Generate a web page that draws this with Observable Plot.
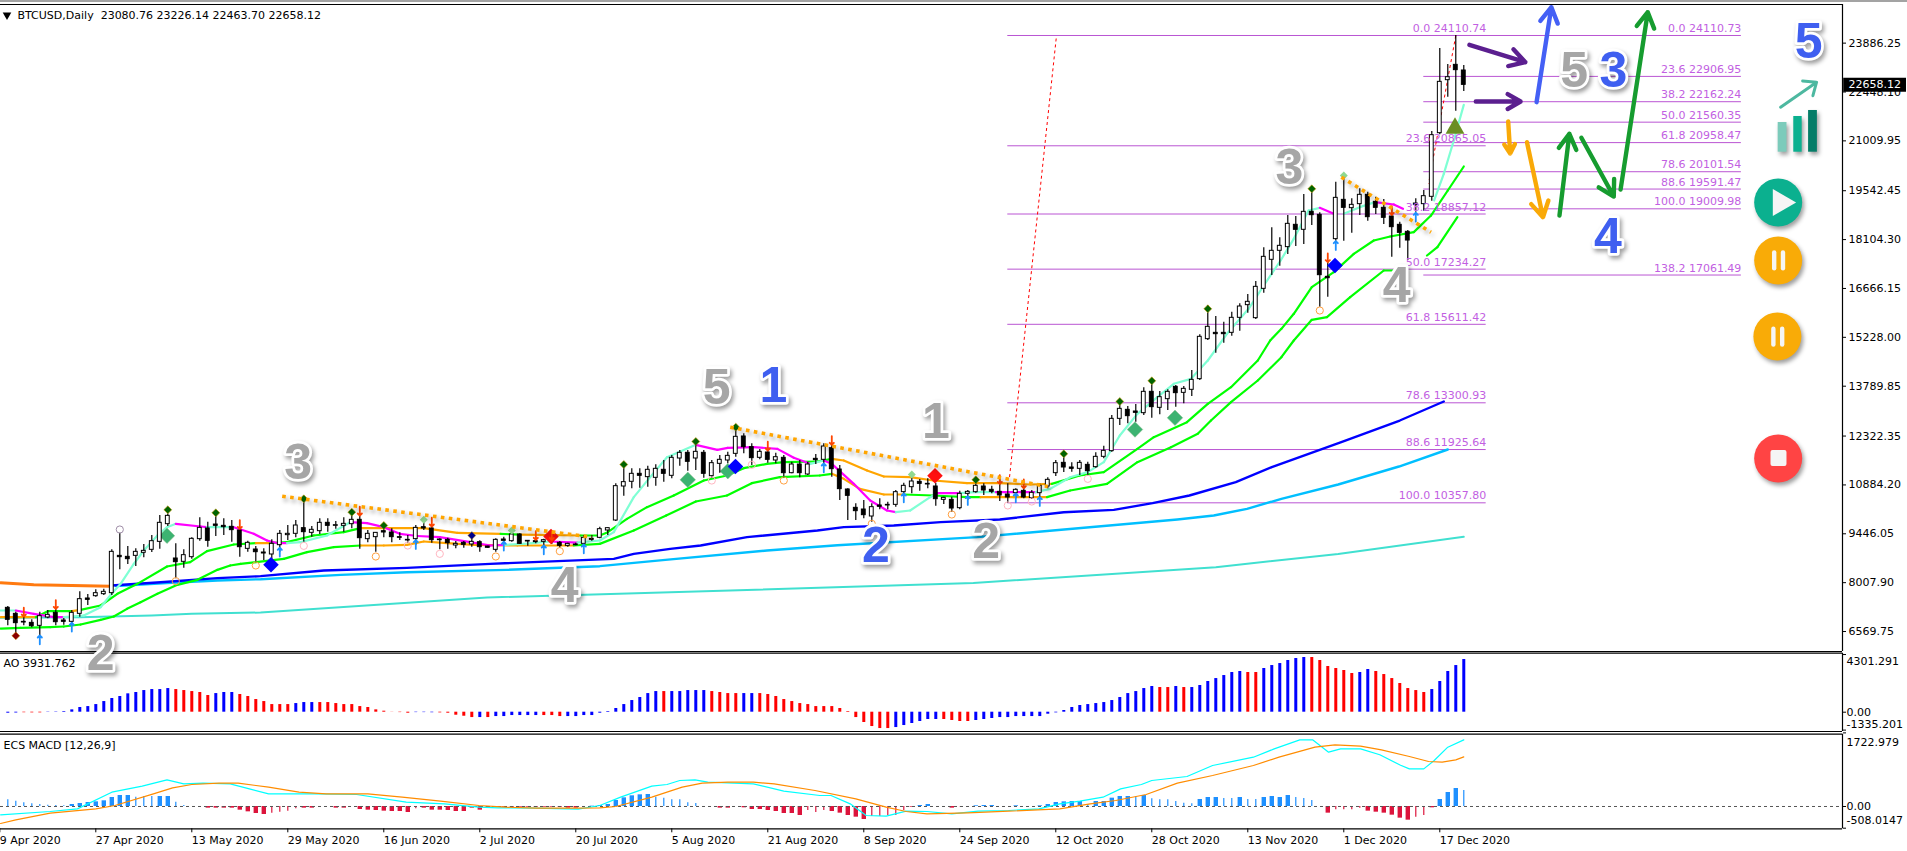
<!DOCTYPE html>
<html>
<head>
<meta charset="utf-8">
<script src="https://cdn.jsdelivr.net/npm/d3@7"></script>
<script src="https://cdn.jsdelivr.net/npm/@observablehq/plot@0.6"></script>
<style>
html,body{margin:0;padding:0;background:#fff;overflow:hidden;width:1907px;height:851px}
.pane{position:absolute;left:0}
#strip{position:absolute;left:0;top:0;width:1907px;height:2px;background:#a3a3a3}
</style>
</head>
<body>
<div id="strip"></div>
<div id="ao" class="pane" style="top:650px"></div>
<div id="macd" class="pane" style="top:730px"></div>
<div id="main" class="pane" style="top:0"></div>
<script>
// ---------- daily candles, BTCUSD ----------
const opens = [7267,7090,6855,6825,6737,6982,7120,6894,6855,7090,
7542,7610,7669,7699,8797,8768,8797,8886,8974,9209,
9729,8719,8621,8758,9288,9602,9719,9680,9651,9543,
9003,8984,8895,8837,9111,9406,9445,9612,9474,9523,
9769,9680,9680,9729,9857,9288,9347,9523,9484,9347,
9268,9288,9641,9602,9258,9268,9101,9180,9131,9200,
9072,8974,9278,9229,9425,9239,9229,9209,9249,9180,
9092,9131,9150,9298,9327,9543,9837,10838,10976,11211,
11113,11093,11329,11152,11662,11829,11662,11829,11142,11505,
11603,11799,12310,11996,11682,11839,11603,11682,11230,11485,
11191,11652,11623,11966,11338,10750,10210,10161,9955,10279,
10279,10298,10671,10818,10975,10916,10838,10445,10445,10200,
10622,10671,10838,10740,10681,10602,10642,10710,10494,10642,
10838,11230,11534,11397,11358,11475,11407,11711,11878,12829,
13094,13045,12996,13624,13153,13408,13771,13594,13683,13997,
15174,15360,15360,15360,15802,16175,15792,16655,17509,17774,
17882,18539,18392,18921,18833,17008,18117,19274,19029,19147,
19422,19216,19039,18784,18539,18333,19166,19147,19363,21236,
22796,23247,23080.76];
const highs = [7306,7139,7012,6914,7139,7188,7237,6953,7188,7738,
7659,7797,7816,8974,9464,9072,9003,9131,9396,9984,
10033,9150,8974,9327,9916,9788,10033,9886,9837,9592,
9229,9072,9003,9268,9543,9690,9837,10553,9661,9886,
9886,9808,9916,10131,9955,9543,9474,9739,9592,9474,
9396,9690,9788,9641,9298,9317,9219,9219,9445,9239,
9082,9298,9347,9494,9445,9249,9347,9288,9396,9219,
9170,9170,9396,9396,9641,9622,10916,11505,11358,11358,
11436,11476,11603,11750,11897,11897,12143,11897,11603,11750,
11848,12535,12388,12094,11927,11927,11819,11750,11554,11603,
11554,11780,12094,12045,11456,10769,10328,10426,10328,10475,
10377,10720,10936,11093,11044,11064,10936,10524,10524,10701,
10720,11064,10916,10848,11112,10916,10769,10769,10720,10916,
11093,11603,11799,11534,11603,11554,11829,12025,12927,13388,
13192,13251,13742,14006,13634,13683,13810,13781,14252,15301,
16165,15841,15674,15969,16214,16489,16871,17862,18451,18157,
18814,18784,19431,19647,18892,17489,19794,19941,19304,19598,
19500,19353,19284,19059,18617,18372,19304,19549,21285,23728,
23257,24111,23226.14];
const lows = [6737,6521,6737,6678,6423,6943,6737,6757,6796,6992,
7336,7581,7630,7630,8385,8542,8483,8739,8895,8994,
9661,8120,8434,8699,9229,9052,9366,9396,9200,8758,
8905,8611,8660,8582,8905,9249,9327,9200,9347,9425,
9494,9582,9494,9592,8994,9180,8905,9327,9180,9249,
9170,9101,9543,9170,8974,8994,9003,9023,9052,8905,
9023,8905,9150,9200,9131,9082,9150,9052,9131,9023,
9052,9092,9101,9229,9298,9396,9808,10553,10769,10789,
10818,10848,10966,11064,11436,11289,11309,11083,11083,11230,
11505,11701,11799,11456,11623,11525,11505,11093,11211,11093,
11162,11485,11456,11113,10426,9837,9837,9886,9788,10151,
10151,10230,10603,10622,10701,10769,10259,10308,10083,10151,
10426,10642,10573,10622,10396,10347,10475,10475,10455,10445,
10769,11132,11250,11259,11162,11162,11377,11652,11848,12633,
12682,12731,12927,12849,12947,13074,13173,13271,13487,13957,
15135,14762,15056,15262,15409,15939,15753,16528,17048,17322,
17666,17901,17960,18519,16116,16410,18058,18058,18293,18814,
18647,18843,18549,17587,17852,17489,18911,18941,19235,21187,
22296,21884,22463.70];
const closes = [6914,6816,6835,6727,7022,7061,6845,6855,7120,7522,
7502,7699,7738,8915,8758,8699,8915,8944,9229,9769,
9974,8611,8817,9298,9621,9239,9680,9641,9553,9052,
9180,8905,8866,9150,9445,9445,9690,9494,9563,9769,
9680,9700,9739,9857,9317,9445,9474,9484,9347,9327,
9249,9621,9602,9258,9278,9170,9150,9121,9209,9052,
9033,9268,9239,9425,9150,9219,9200,9258,9219,9092,
9150,9111,9327,9268,9582,9612,10848,10966,11211,11152,
11329,11358,11211,11682,11829,11564,11858,11211,11525,11623,
11740,12300,11996,11672,11858,11623,11701,11230,11485,11230,
11485,11613,12015,11348,10760,10563,10112,9994,10230,10240,
10298,10671,10858,10985,10916,10897,10465,10504,10190,10622,
10681,10858,10720,10681,10573,10514,10740,10514,10651,10857,
11034,11524,11397,11358,11534,11289,11711,11887,12829,13123,
12908,13006,13624,13173,13467,13624,13585,13712,13977,15243,
15537,15321,15321,15802,16135,16273,16714,17597,17774,17921,
18568,18392,18921,18823,17057,16969,19333,19039,19127,19422,
18764,19039,18745,18470,18303,18077,19127,19382,21178,22747,
22884,23091,22658.12];

// ---------- moving averages: [bar, price] knots and the colour of the stretch that starts at each knot ----------
const fastBar = [-0.9,1,3.25,5.75,7,9.5,11.6,12.8,14.1,15.75,17,18.7,19.9,21,24.1,24.9,28.25,30.75,32.4,33.7,34.9,36.6,39.9,42.8,44.9,47,49,51.2,54,57.8,60.3,62,64.5,67.8,71.2,74,75.75,78.25,80.3,82.4,86,88.7,90,93.25,96.2,98.25,100.3,102,103,105.75,107.8,109.9,111,112.8,115.3,116.2,119,121,123.5,128.5,130.3,132.8,135,137,139,141.2,143.7,145.75,147.9,150,152.4,155.1,157,159.1,160.75,162.6,164,165.75,167,169,170.9,173.25,174.4,178.3,179.5,180.75,182];
const fastVal = [7188,7188,7090,6992,6992,7041,7286,7630,7973,8562,8954,9395,9641,9739,9660,9641,9641,9445,9249,9170,9170,9200,9396,9788,9759,9641,9445,9381,9347,9200,9101,9121,9150,9219,9185,9249,9494,10524,11113,11701,12064,11917,11976,11995,11946,11682,11505,11603,11505,10916,10426,10132,10083,10132,10524,10642,10642,10671,10671,10671,10769,11112,11260,11554,12339,12976,13467,13860,14006,14546,15331,16067,16753,17489,18127,18961,19039,18862,18862,19059,19206,19137,19010,19255,20040,21021,22070];
const fastCol = "a"+"mmm"+"aaaaaaaaa"+"mm"+"a"+"mmmm"+"aaa"+"mmmmmmmm"+"aa"+"m"+"aaaaaa"+"mmmmmm"+"a"+"mmmmm"+"aaa"+"m"+"aa"+"m"+"aaaaaaaaaaaaaaaaa"+"m"+"-"+"aa"+"mm"+"-"+"aaaa";
const midBar = [-0.9,3.5,5,8,9.1,11.6,13.7,16.2,19.9,22.8,24.9,28.25,31,32.8,34.9,38.25,42,44.1,52,56.2,61.6,64,71.6,74,75,77.4,79.9,83.25,87,89.9,92,94.9,97,101.2,103,104.5,107.4,109.5,112.8,115.7,119.9,124,127.8,130.5,134,137,141.2,143.25,147.4,150,152.9,156.25,157.8,159.2,160.75,163,165.75,168.25,170.75,172.8,175.75,177.9,180,182];
const midVal = [6992,6992,7169,7169,7208,7335,7679,7973,8483,8611,8935,9131,9170,9170,9200,9396,9494,9612,9612,9474,9445,9420,9396,9396,9494,9886,10230,10573,11014,11162,11378,11505,11554,11574,11652,11603,11309,11132,11113,11014,10936,10936,10897,10916,11162,11260,11946,12289,12731,13271,13761,14546,15135,15478,15920,16705,17146,17685,18077,18195,18323,18813,19549,20255];
const midCol = "o"+"gg"+"o"+"gggggggg"+"o"+"gggg"+"ooo"+"g"+"o"+"gggggggggggg"+"ooooooooo"+"ggggggggggggggggggggg";
const slowBar = [-0.9,1.6,5.3,7,9.1,11.6,13.25,14.9,16.6,18.7,21.2,23.7,26.2,27.8,29.1,34.5,37.4,40.75,44.1,47,49.9,52,54.9,58.25,63.7,70.75,74,78.25,82.3,86,89.9,93,96.5,101.5,103,104.5,106.5,109.5,112,115.7,119.9,121.6,125.75,129.9,132.8,137.4,141.2,145.4,148.75,150.4,152.9,156.25,159.2,160.75,163,164.9,167.8,172,173.2,177.4,178.7,181.2];
const slowVal = [6658,6678,6698,6717,6776,6913,7012,7237,7433,7679,7944,8091,8385,8513,8562,8709,8905,9052,9101,9101,9121,9219,9170,9121,9101,9101,9150,9543,9984,10396,10573,10936,11113,11162,11211,11064,10769,10603,10603,10573,10524,10524,10524,10524,10720,10916,11554,11995,12388,12780,13320,13957,14644,15135,15743,15821,16410,17195,17195,17636,17882,18764];
const slowCol = "gggggggggggggggggg"+"ooooooo"+"ggggggggg"+"oooo"+"ggg"+"oo"+"ggggggggggggggg"+"-"+"ggg";
const blueBar = [13,19.1,26.2,31.6,39.5,49.9,60.3,75.75,78.25,82.8,86.6,92.4,101.2,104.5,110.75,116.6,124,132,138.25,143.1,147.7,153.5,158,166.6,174,179.5];
const blueVal = [7924,8022,8140,8199,8365,8444,8562,8709,8856,9003,9102,9347,9543,9641,9690,9788,9866,10082,10151,10347,10573,10965,11407,12133,12780,13340];
const skyBar = [13.5,19.9,26.2,31.6,41.6,49.9,62.4,74,82.2,94.9,103.7,121.2,146.2,150.75,154.9,159.2,166.3,173.9,180];
const skyVal = [7905,7993,8071,8110,8238,8316,8385,8493,8680,8954,9111,9347,9866,9984,10180,10475,10897,11426,11927];
const tealBar = [-0.9,9,18,23,31.6,59.9,90.3,120.7,151,166.3,182];
const tealVal = [6972,6992,7041,7090,7129,7571,7777,7998,8463,8854,9357];
const emaBar = [-0.9,3.25,8,12.8];
const emaVal = [8003,7944,7924,7905];

// ---------- Fibonacci levels ----------
const fibA = [["0.0",24110.74],["23.6",20865.05],["38.2",18857.12],["50.0",17234.27],["61.8",15611.42],["78.6",13300.93],["88.6",11925.64],["100.0",10357.80]];
const fibB = [["0.0",24110.73],["23.6",22906.95],["38.2",22162.24],["50.0",21560.35],["61.8",20958.47],["78.6",20101.54],["88.6",19591.47],["100.0",19009.98],["138.2",17061.49]];
const fibSpanA = [125, 184.8];
const fibSpanB = [177, 216.7];
const fibTrend = [[131.05,24022,125.2,11073],[181,24110,177.6,19756]];
const dotTrend = [[34.3,10552,73,9346],[90.3,12583,130,10838],[166.7,19941,177.9,18322]];

// ---------- signal markers [bar, price] ----------
const darkDiamonds = [[20,10151],[26,10063],[37,10474],[43,10082],[47,9690],[77,11485],[86,12162],[91,12584],[121,11034],[132,11799],[139,13339],[143,13947],[150,16067],[163,19598]];
const navyDiamonds = [[58,9395]];
const maroonDiamonds = [[1,6443]];
const paleDiamonds = [[52,9857],[63,9543],[113,11191],[167,19991]];
const downArrows = [[2,7139],[6,7365],[29,9719],[44,10112],[53,9788],[66,9396],[68,9396],[95,12025],[103,12192],[124,11044],[127,10916],[165,17568],[173,18961]];
const upArrows = [[4,6325],[8,6698],[34,8905],[51,9131],[62,9082],[67,8974],[72,9003],[102,11387],[112,10504],[120,10426],[126,10504],[129,10396],[166,17930],[176,18764]];
const greyRings = [[14,9572]];
const orangeRings = [[21,8052],[31,8513],[46,8778],[61,8778],[69,8935],[97,11014],[108,9739],[118,10014],[164,16017]];
const pinkRings = [[37,9091],[50,9101],[54,8856],[88,11014],[93,11476],[125,10279],[128,10396],[135,11063]];
const bigBlue = [[32.9,8532],[90.96,11426],[165.9,17342]];
const bigRed = [[67.9,9366],[115.9,11152]];
const bigGreen = [[19.9,9386],[85,11034],[90,11289],[140.9,12515],[145.9,12859]];
const oliveMark = [[180.9,21383]];

// ---------- wave counts and forecast arrows ----------
const greyCounts = [["3",36.3,11515],["5",88.6,13751],["1",116,12730],["2",122.3,9190],["4",69.6,7895],["2",11.6,5894],["3",160.2,20197],["4",173.6,16753],["5",195.8,23060]];
const blueCounts = [["1",95.7,13810],["2",108.5,9101],["3",200.7,23060],["4",200,18175],["5",225.1,23905]];
const forecast = [
  [182.7,23837,189.7,23325,"#5b1f8f"],[183.5,22168,189.1,22168,"#5b1f8f"],
  [191.1,22148,192.95,24944,"#4460f5"],
  [187.55,21580,187.8,20638,"#f9a908"],[189.9,20971,191.9,18763,"#f9a908"],
  [193.96,18813,195.2,21218,"#169c2f"],[196.7,21100,200.75,19372,"#169c2f"],[201.6,19579,205,24797,"#169c2f"]
];
const logoArrow = [[221.6,22000,226.1,22736]];
const logoBars = [[221.3,222.4,21550,"#7ccbbb"],[223.25,224.3,21727,"#0bb08f"],[225.1,226.2,21904,"#067d68"]];
const logoBase = 20676;
const buttons = [[221.3,19196,"#0bb08f"],[221.3,17489,"#f9ab07"],[221.2,15252,"#f9ab07"],[221.3,11662,"#ff4444"]];
const playMark = [[221.6,19196]];
const pauseBars = [[220.8,17725,17262],[221.9,17725,17262],[220.7,15479,15017],[221.8,15479,15017]];
const stopMark = [[220.4,222.4,11426,11897]];

// ---------- axes ----------
const priceTicks = [23886.25,22448.10,21009.95,19542.45,18104.30,16666.15,15228.00,13789.85,12322.35,10884.20,9446.05,8007.90,6569.75];
const lastPrice = 22658.12;
const dateTicks = [-1,11,23,35,47,59,71,83,95,107,119,131,143,155,167,179];
const dateLabels = ["9 Apr 2020","27 Apr 2020","13 May 2020","29 May 2020","16 Jun 2020","2 Jul 2020","20 Jul 2020","5 Aug 2020","21 Aug 2020","8 Sep 2020","24 Sep 2020","12 Oct 2020","28 Oct 2020","13 Nov 2020","1 Dec 2020","17 Dec 2020"];
const headerText = "BTCUSD,Daily\u00A0\u00A023080.76 23226.14 22463.70 22658.12";

// ---------- Awesome Oscillator ----------
const aoValues = [-75,-60,-40,-50,-50,-20,25,50,175,350,
420,570,795,1020,1170,1370,1470,1615,1690,1690,
1765,1690,1615,1540,1470,1245,1390,1470,1470,1320,
1170,945,795,570,570,570,645,720,720,720,
720,645,570,570,420,350,175,75,10,-30,
-75,-30,-30,-40,-50,-75,-225,-300,-400,-400,
-400,-325,-325,-250,-250,-250,-250,-250,-250,-325,
-325,-325,-250,-250,-75,50,275,570,870,1095,
1390,1540,1540,1540,1540,1615,1615,1615,1540,1470,
1390,1390,1390,1390,1390,1320,1170,945,795,645,
570,420,420,420,275,50,-400,-770,-1070,-1220,
-1220,-1145,-995,-845,-695,-545,-545,-545,-620,-695,
-695,-620,-545,-470,-400,-400,-325,-325,-325,-325,
-150,-50,125,350,500,570,645,720,870,1095,
1390,1540,1765,1915,1840,1840,1915,1840,1840,1990,
2290,2510,2735,2960,3035,2960,2960,3260,3480,3630,
3855,4005,4080,4080,3855,3410,3260,3110,2885,2960,
3185,3035,2810,2510,2140,1765,1615,1470,1690,2290,
3035,3480,3931.762];
const aoRed = [2,3,4,21,22,23,24,25,29,30,31,32,33,34,35,39,40,41,42,43,44,45,46,47,48,49,50,54,55,56,57,58,60,67,68,69,82,88,89,90,91,94,95,96,97,98,99,100,101,102,103,104,105,106,107,108,109,110,117,118,119,120,144,145,147,155,156,163,164,165,166,167,168,171,172,173,174,175,176,177];
const aoTicks = [4301.291,0,-1335.201];
const aoTickLabels = ["4301.291","0.00","-1335.201"];
const aoTickShift = [7,0.5,-5.6];

// ---------- MACD ----------
const histValues = [156,125,86,62,47,31,23,16,47,70,
94,109,133,211,257,257,218,234,234,234,
234,101,23,0,0,-39,-39,-39,-39,-86,
-125,-164,-187,-156,-133,-109,-55,-39,-39,0,
0,-39,-39,0,-70,-86,-94,-109,-117,-117,
-140,-55,-39,-86,-86,-94,-117,-117,-39,-86,
-39,-16,-16,-16,-16,-16,-16,-16,-16,-16,
-39,-39,0,8,23,47,140,203,250,273,
281,218,195,156,156,86,70,0,0,-39,
-39,0,-31,-70,-70,-94,-117,-164,-164,-211,
-94,-140,-94,-117,-156,-211,-250,-304,-234,-234,
-211,-211,-94,-16,23,47,0,0,-39,-8,
0,16,23,23,0,0,16,0,0,16,
47,94,109,117,117,47,117,117,195,234,
234,234,257,179,156,156,117,78,62,164,
211,211,187,187,211,164,164,211,234,211,
257,211,187,140,0,-156,-78,-78,-78,-39,
-109,-133,-156,-203,-273,-320,-250,-211,-31,164,
328,421,374];
const histThin = [0,1,2,3,4,5,6,7,16,17,18,21,22,33,34,35,36,51,81,82,83,84,85,86,100,101,102,108,109,110,111,112,119,135,141,143,144,145,146,147,148,152,153,155,156,161,162,163,166,167,168,169,176,177,182];
const macdBar = [-0.9,5.3,8.7,13,16.8,19.9,22,24.4,27.8,30.2,32.6,35.4,38.3,43.6,49.8,54.6,58.9,61.3,66,69.9,71.3,74,76.6,80.5,82.4,84,85.9,87.5,90,93.2,97,101.5,102.9,105.3,107.3,109.8,112.3,114.9,118,121.3,125.1,128.9,131.5,134,136.9,139.1,141.7,143,147.4,150.6,155.7,158.3,161.5,163.1,165.1,166.6,169.1,171.5,174.1,175.2,177,178.3,180,182];
const macdVal = [-195,-117,-55,335,476,624,530,546,530,413,296,296,296,281,101,62,-16,-31,-39,-55,-62,23,218,476,515,608,624,569,554,530,359,257,257,62,-211,-226,-109,-117,-172,-109,-94,-55,62,125,218,413,515,608,702,959,1154,1349,1560,1560,1271,1349,1349,1210,965,881,881,1076,1388,1560];
const signalBar = [-0.9,1,5.3,11,13.4,18.2,20.6,23,26.4,28.8,32.6,36.4,39.8,45,49.3,54.1,58.9,62.2,66,70.9,74,76,80.5,84.3,86.8,90,93.2,95.8,100.9,106,109.8,112.3,114.9,120,125.1,131.5,135.3,138.5,142.3,146.2,150.6,155.7,158.9,163.4,165.9,169.1,171.7,175.2,177.6,179.3,181,182];
const signalVal = [-398,-312,-156,-55,23,296,437,515,546,546,452,335,296,296,218,125,23,-16,-39,-39,-31,0,218,452,546,569,569,530,374,179,-16,-117,-172,-148,-109,-55,62,140,281,546,725,959,1154,1388,1443,1412,1326,1170,1053,1037,1092,1162];
const macdTicks = [1722.979,0,-508.0147];
const macdTickLabels = ["1722.979","0.00","-508.0147"];
const macdTickShift = [10,0.3,-7.4];

// ---------- build ----------
const FONT = "'DejaVu Sans', sans-serif";
const xDomain = [-0.9125, 229.34];
const rightEdge = xDomain[1];
const lastBars = closes.map((_, i) => i);
const candles = lastBars.map(i => ({i, o: opens[i], h: highs[i], l: lows[i], c: closes[i]}));
const pairs = (a, b) => a.map((v, k) => ({x: v, y: b[k]}));
const colourMap = {a: "#7fffd4", m: "#ff00ff", g: "#00ff00", o: "#ffa500"};
function stretches(bar, val, code) {
  const out = [];
  for (let k = 0; k < bar.length - 1; k++) {
    const c = code[k] || "-";
    if (c !== "-") out.push({x1: bar[k], y1: val[k], x2: bar[k + 1], y2: val[k + 1], c: colourMap[c]});
  }
  return out;
}
const colourLine = (bar, val, code) => Plot.link(stretches(bar, val, code), {x1: "x1", y1: "y1", x2: "x2", y2: "y2", stroke: "c", strokeWidth: 2.2, strokeLinecap: "round"});
const plainLine = (bar, val, stroke, w) => Plot.line(pairs(bar, val), {x: "x", y: "y", stroke, strokeWidth: w});
const SHADOW = "drop-shadow(2px 3px 2px rgba(0,0,0,.38))";
const marker = (data, o) => Plot.dot(data, {x: d => d[0], y: d => d[1], ...o});
const smallArrows = (data, dir, stroke) => Plot.arrow(data, {
  x1: d => d[0], x2: d => d[0],
  y1: d => d[1] - dir * 130, y2: d => d[1] + dir * 130,
  stroke, strokeWidth: 1.8, headLength: 7, headAngle: 90
});
const fibRows = (fib, span) => fib.map(([lab, v]) => ({x1: span[0], x2: span[1], v, t: lab + " " + v.toFixed(2)}));
const allFib = [...fibRows(fibA, fibSpanA), ...fibRows(fibB, fibSpanB)];
const countText = (data, fill) => Plot.text(data, {x: d => d[1], y: d => d[2], text: d => d[0], fill, stroke: "#fff", strokeWidth: 5.5, fontSize: 50, fontWeight: "bold", fontFamily: "'Liberation Sans', sans-serif", imageFilter: SHADOW});

const mainPlot = Plot.plot({
  width: 1907, height: 652, marginTop: 4, marginBottom: 1, marginLeft: 0, marginRight: 65,
  x: {domain: xDomain, axis: null},
  y: {domain: [5982, 25023], axis: null},
  color: {type: "identity"},
  style: {background: "transparent", fontFamily: FONT, fontSize: "11px", overflow: "visible", color: "#000"},
  marks: [
    Plot.axisY({anchor: "right", ticks: priceTicks, tickFormat: d => d.toFixed(2), tickSize: 3, tickPadding: 3, fontSize: 11, label: null}),
    Plot.ruleY([lastPrice], {x1: rightEdge + 0.15, x2: rightEdge + 8, stroke: "#000", strokeWidth: 14}),
    Plot.text([lastPrice], {x: rightEdge, y: d => d, dx: 6, text: d => d.toFixed(2), textAnchor: "start", fill: "#fff", fontSize: 11}),
    Plot.ruleY([25023, 5982], {stroke: "#000", strokeWidth: 1.2}),
    Plot.ruleX([rightEdge], {stroke: "#000", strokeWidth: 1.2}),
    Plot.ruleY(allFib, {x1: "x1", x2: "x2", y: "v", stroke: "#ba55d3", strokeWidth: 1}),
    Plot.link(fibTrend, {x1: d => d[0], y1: d => d[1], x2: d => d[2], y2: d => d[3], stroke: "#f00", strokeWidth: 1, strokeDasharray: "3,3"}),
    plainLine(emaBar, emaVal, "#ff7a10", 3),
    plainLine(tealBar, tealVal, "#40e0d0", 2),
    plainLine(skyBar, skyVal, "#00bfff", 2.4),
    plainLine(blueBar, blueVal, "#0000ff", 2.4),
    colourLine(slowBar, slowVal, slowCol),
    colourLine(midBar, midVal, midCol),
    colourLine(fastBar, fastVal, fastCol),
    marker(bigGreen, {symbol: "diamond2", r: 7, fill: "#3cb371", stroke: "#8fbc8f", strokeWidth: 0.5}),
    Plot.ruleX(candles, {x: "i", y1: "l", y2: "h", stroke: "#000", strokeWidth: 1.2}),
    Plot.rect(candles, {
      x1: d => d.i - 0.24, x2: d => d.i + 0.24,
      y1: d => Math.min(d.o, d.c), y2: d => Math.max(d.o, d.c),
      fill: d => d.c >= d.o ? "#fff" : "#000", stroke: "#000", strokeWidth: 1
    }),
    marker(darkDiamonds, {symbol: "diamond2", r: 3.6, fill: "#006400", stroke: "#d4a017", strokeWidth: 0.6}),
    marker(navyDiamonds, {symbol: "diamond2", r: 3.6, fill: "#00008b", stroke: "#d4a017", strokeWidth: 0.5}),
    marker(maroonDiamonds, {symbol: "diamond2", r: 3.6, fill: "#8b0000", stroke: "#d4a017", strokeWidth: 0.5}),
    marker(paleDiamonds, {symbol: "diamond2", r: 3.6, fill: "#90d890"}),
    marker(greyRings, {r: 3.6, fill: "none", stroke: "#a08ea8", strokeWidth: 1}),
    marker(orangeRings, {r: 3.6, fill: "none", stroke: "#ffa040", strokeWidth: 1}),
    marker(pinkRings, {r: 3.6, fill: "none", stroke: "#ffb6c1", strokeWidth: 1}),
    marker(bigBlue, {symbol: "diamond2", r: 7, fill: "#0000ff"}),
    marker(bigRed, {symbol: "diamond2", r: 7, fill: "#ff1010"}),
    smallArrows(upArrows, 1, "#1e90ff"),
    smallArrows(downArrows, -1, "#ff4500"),
    marker(oliveMark, {symbol: "triangle", r: 7, fill: "#6b8e23"}),
    Plot.link(dotTrend, {x1: d => d[0], y1: d => d[1], x2: d => d[2], y2: d => d[3], stroke: "#ffa500", strokeWidth: 3.6, strokeDasharray: "3.6,4.4", imageFilter: SHADOW}),
    Plot.text(allFib, {x: "x2", y: "v", text: "t", dy: -7, textAnchor: "end", fill: "#c25fe2", fontSize: 11}),
    countText(greyCounts, "#a6a6a6"),
    countText(blueCounts, "#3f5ff0"),
    Plot.arrow(forecast, {x1: d => d[0], y1: d => d[1], x2: d => d[2], y2: d => d[3], stroke: d => d[4], strokeWidth: 4.4, headLength: 6, headAngle: 60, strokeLinecap: "round"}),
    Plot.rect(logoBars, {x1: d => d[0], x2: d => d[1], y1: logoBase, y2: d => d[2], fill: d => d[3], imageFilter: SHADOW}),
    Plot.arrow(logoArrow, {x1: d => d[0], y1: d => d[1], x2: d => d[2], y2: d => d[3], stroke: "#4db8a0", strokeWidth: 3, headLength: 7, headAngle: 80}),
    marker(buttons, {r: 24, fill: d => d[2], imageFilter: SHADOW}),
    marker(playMark, {symbol: "triangle", rotate: 90, r: 10, fill: "#f5f5f5"}),
    Plot.link(pauseBars, {x1: d => d[0], x2: d => d[0], y1: d => d[1], y2: d => d[2], stroke: "#f5f5f5", strokeWidth: 4.4, strokeLinecap: "round"}),
    Plot.rect(stopMark, {x1: d => d[0], x2: d => d[1], y1: d => d[2], y2: d => d[3], fill: "#f5f5f5", rx: 2}),
    Plot.dot([0], {frameAnchor: "top-left", dx: 6.5, dy: 10.5, symbol: "triangle", rotate: 180, r: 3.2, fill: "#000"}),
    Plot.text([headerText], {frameAnchor: "top-left", lineAnchor: "middle", textAnchor: "start", dx: 17, dy: 10.7, fill: "#000", fontSize: 11})
  ]
});
document.getElementById("main").appendChild(mainPlot);

const aoRows = aoValues.map((v, i) => ({i, v, c: aoRed.includes(i) ? "#ff0000" : "#0000ff"}));
const aoPlot = Plot.plot({
  width: 1907, height: 82, marginTop: 2.7, marginBottom: 1, marginLeft: 0, marginRight: 65,
  x: {domain: xDomain, axis: null},
  y: {domain: [-1440, 4401], axis: null},
  color: {type: "identity"},
  style: {background: "transparent", fontFamily: FONT, fontSize: "11px", overflow: "visible", color: "#000"},
  marks: [
    Plot.ruleY([4401, -1440], {stroke: "#000", strokeWidth: 1.2}),
    Plot.ruleX([rightEdge], {stroke: "#000", strokeWidth: 1.2}),
    Plot.axisY({anchor: "right", ticks: aoTicks, tickFormat: () => "", tickSize: 3, label: null}),
    ...aoTicks.map((v, k) => Plot.text([v], {x: rightEdge, y: d => d, dx: 4, dy: aoTickShift[k], text: () => aoTickLabels[k], textAnchor: "start", fill: "#000", fontSize: 11})),
    Plot.ruleX(aoRows, {x: "i", y1: 0, y2: "v", stroke: "c", strokeWidth: 3}),
    Plot.text(["AO 3931.762"], {frameAnchor: "top-left", lineAnchor: "middle", textAnchor: "start", dx: 3, dy: 10.6, fill: "#000", fontSize: 11})
  ]
});
document.getElementById("ao").appendChild(aoPlot);

const histRows = histValues.map((v, i) => ({i, v, thin: histThin.includes(i), c: v >= 0 ? "#1e90ff" : "#dc143c"}));
const macdPlot = Plot.plot({
  width: 1907, height: 121, marginTop: 3.7, marginBottom: 22.7, marginLeft: 0, marginRight: 65,
  x: {domain: xDomain, axis: null},
  y: {domain: [-522, 1692], axis: null},
  color: {type: "identity"},
  style: {background: "transparent", fontFamily: FONT, fontSize: "11px", overflow: "visible", color: "#000"},
  marks: [
    Plot.ruleY([1692, -522], {stroke: "#000", strokeWidth: 1.2}),
    Plot.ruleX([rightEdge], {stroke: "#000", strokeWidth: 1.2}),
    Plot.axisY({anchor: "right", ticks: macdTicks, tickFormat: () => "", tickSize: 3, label: null}),
    ...macdTicks.map((v, k) => Plot.text([v], {x: rightEdge, y: d => d, dx: 4, dy: macdTickShift[k], text: () => macdTickLabels[k], textAnchor: "start", fill: "#000", fontSize: 11})),
    Plot.ruleX(histRows.filter(d => !d.thin), {x: "i", y1: 0, y2: "v", stroke: "c", strokeWidth: 4.4}),
    Plot.ruleX(histRows.filter(d => d.thin), {x: "i", y1: 0, y2: "v", stroke: "c", strokeWidth: 1.2}),
    Plot.ruleY([0], {stroke: "#555", strokeWidth: 1, strokeDasharray: "3,3"}),
    plainLine(macdBar, macdVal, "#00ffff", 1.2),
    plainLine(signalBar, signalVal, "#ff8c00", 1.2),
    Plot.axisX({anchor: "bottom", ticks: dateTicks, tickFormat: d => dateLabels[dateTicks.indexOf(d)], tickSize: 4, tickPadding: 3, textAnchor: "start", fontSize: 11, label: null}),
    Plot.text(["ECS MACD [12,26,9]"], {frameAnchor: "top-left", lineAnchor: "middle", textAnchor: "start", dx: 3, dy: 11.3, fill: "#000", fontSize: 11})
  ]
});
document.getElementById("macd").appendChild(macdPlot);
</script>
</body>
</html>
